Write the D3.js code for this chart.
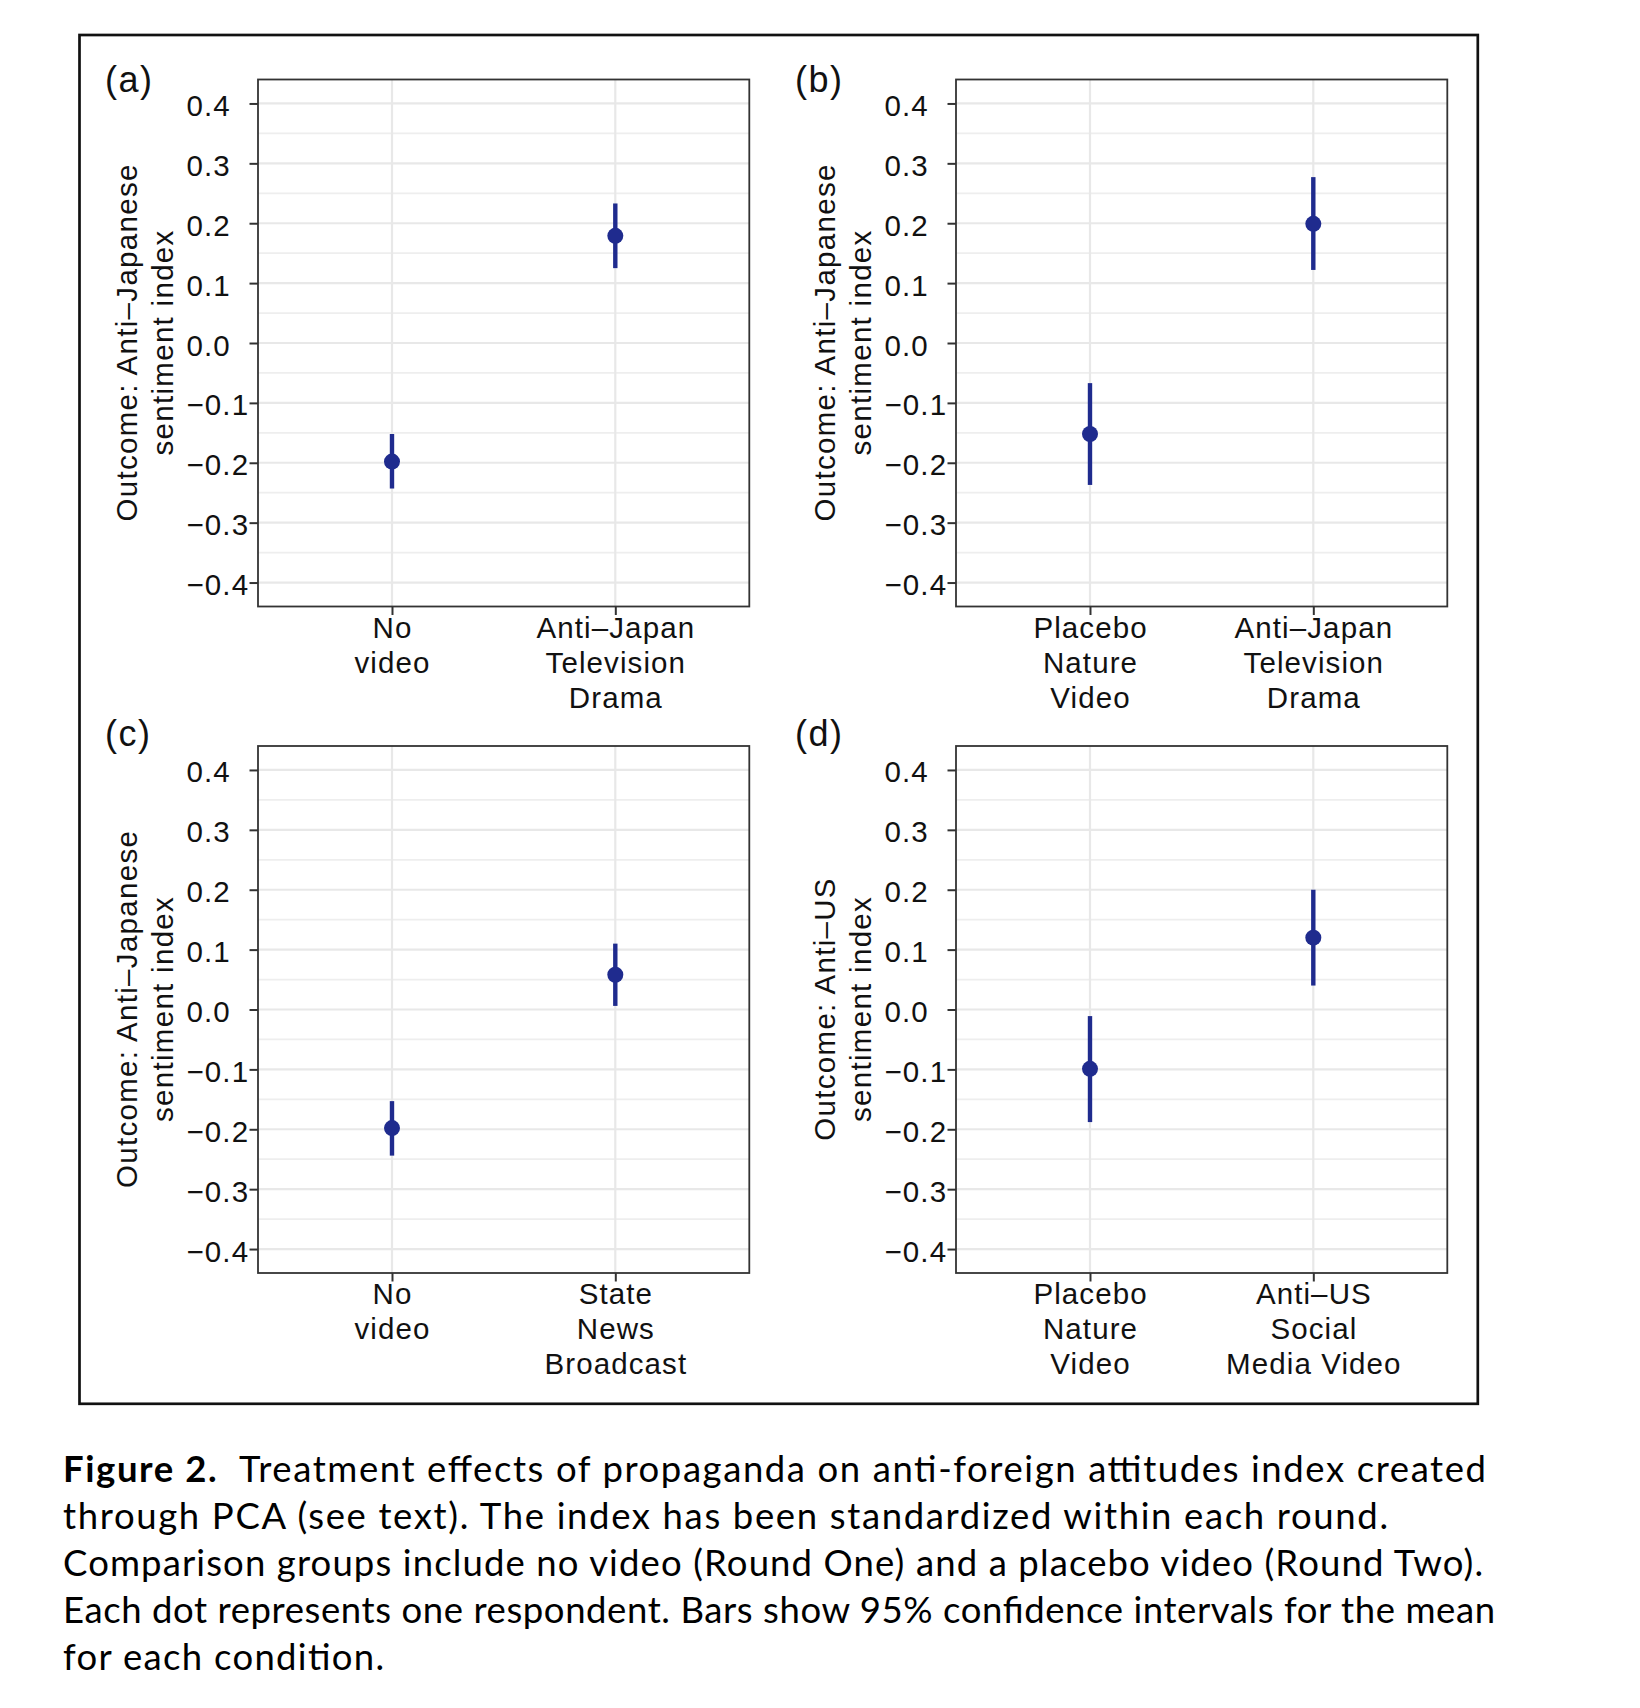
<!DOCTYPE html>
<html><head><meta charset="utf-8">
<script src="https://cdn.jsdelivr.net/npm/d3@7"></script>
<style>body{margin:0;background:#fff} svg{display:block}</style>
</head><body><svg id="chart" width="1640" height="1708"></svg>
<script>
// ---------- data ----------
const panelLabels = ["(a)", "(b)", "(c)", "(d)"];
const categoriesA = [["No", "video"], ["Anti–Japan", "Television", "Drama"]];
const categoriesB = [["Placebo", "Nature", "Video"], ["Anti–Japan", "Television", "Drama"]];
const categoriesC = [["No", "video"], ["State", "News", "Broadcast"]];
const categoriesD = [["Placebo", "Nature", "Video"], ["Anti–US", "Social", "Media Video"]];
const meanA = [-0.198, 0.179], lowA = [-0.243, 0.125], highA = [-0.152, 0.233];
const meanB = [-0.152, 0.199], lowB = [-0.237, 0.122], highB = [-0.067, 0.277];
const meanC = [-0.198, 0.058], lowC = [-0.244, 0.006], highC = [-0.153, 0.110];
const meanD = [-0.099, 0.120], lowD = [-0.188, 0.040], highD = [-0.011, 0.200];
const yTitleJapan = ["Outcome: Anti–Japanese", "sentiment index"];
const yTitleUS = ["Outcome: Anti–US", "sentiment index"];
const yTickValues = [-0.4, -0.3, -0.2, -0.1, 0, 0.1, 0.2, 0.3, 0.4];
const yMinorValues = [-0.35, -0.25, -0.15, -0.05, 0.05, 0.15, 0.25, 0.35];
const yDomain = [-0.44, 0.44];
const captionBold = "Figure 2.";
const captionLines = [
  "  Treatment effects of propaganda on anti-foreign attitudes index created",
  "through PCA (see text). The index has been standardized within each round.",
  "Comparison groups include no video (Round One) and a placebo video (Round Two).",
  "Each dot represents one respondent. Bars show 95% confidence intervals for the mean",
  "for each condition."
];

// ---------- layout ----------
const panels = [
  {label: panelLabels[0], cats: categoriesA, mean: meanA, low: lowA, high: highA, title: yTitleJapan, left: 258, top: 79.5, labelX: 105, labelY: 92},
  {label: panelLabels[1], cats: categoriesB, mean: meanB, low: lowB, high: highB, title: yTitleJapan, left: 956, top: 79.5, labelX: 795, labelY: 92},
  {label: panelLabels[2], cats: categoriesC, mean: meanC, low: lowC, high: highC, title: yTitleJapan, left: 258, top: 746, labelX: 105, labelY: 745.5},
  {label: panelLabels[3], cats: categoriesD, mean: meanD, low: lowD, high: highD, title: yTitleUS, left: 956, top: 746, labelX: 795, labelY: 745.5}
];
const PW = 491.3, PH = 527;
const FONT = "'Liberation Sans', Arial, Helvetica, sans-serif";
const FS = 29.5, LS = 1.1;
const dotColor = "#1f2b8e";
const captionWidths = [1423, 1325, 1420, 1432, 321];

const svg = d3.select("#chart");
svg.append("rect").attr("width", 1640).attr("height", 1708).attr("fill", "#fff");

// outer frame
svg.append("rect").attr("x", 79.5).attr("y", 35).attr("width", 1398.3).attr("height", 1368.8)
  .attr("fill", "none").attr("stroke", "#111").attr("stroke-width", 2.7);

panels.forEach(p => {
  const g = svg.append("g");
  const keys = p.cats.map((c, i) => "k" + i);
  const x = d3.scalePoint().domain(keys).range([p.left, p.left + PW]).padding(0.6);
  const y = d3.scaleLinear().domain(yDomain).range([p.top + PH, p.top]);

  // grid
  g.selectAll(".minor").data(yMinorValues).join("line")
    .attr("x1", p.left).attr("x2", p.left + PW)
    .attr("y1", d => y(d)).attr("y2", d => y(d))
    .attr("stroke", "#eeeeee").attr("stroke-width", 1.8);
  g.selectAll(".major").data(yTickValues).join("line")
    .attr("x1", p.left).attr("x2", p.left + PW)
    .attr("y1", d => y(d)).attr("y2", d => y(d))
    .attr("stroke", "#e8e8e8").attr("stroke-width", 2.2);
  g.selectAll(".vgrid").data(keys).join("line")
    .attr("x1", d => x(d)).attr("x2", d => x(d))
    .attr("y1", p.top).attr("y2", p.top + PH)
    .attr("stroke", "#e8e8e8").attr("stroke-width", 2.2);

  // axes (ticks)
  const ya = d3.axisLeft(y).tickValues(yTickValues).tickSize(8.5).tickFormat(d3.format(".1f"));
  const yg = g.append("g").attr("transform", `translate(${p.left},0)`).call(ya);
  yg.select(".domain").remove();
  yg.selectAll(".tick line").attr("stroke", "#333").attr("stroke-width", 2);
  yg.selectAll(".tick text").attr("x", -71.5).attr("text-anchor", "start").attr("dy", null).attr("y", 12)
    .attr("font-family", FONT).attr("font-size", FS).attr("letter-spacing", LS)
    .attr("fill", "#111");

  const xa = d3.axisBottom(x).tickSize(8.5).tickFormat("");
  const xg = g.append("g").attr("transform", `translate(0,${p.top + PH})`).call(xa);
  xg.select(".domain").remove();
  xg.selectAll(".tick line").attr("stroke", "#333").attr("stroke-width", 2);
  xg.selectAll(".tick text").remove();
  keys.forEach((k, i) => {
    const t = g.append("text").attr("text-anchor", "middle")
      .attr("font-family", FONT).attr("font-size", FS).attr("letter-spacing", LS).attr("fill", "#111");
    p.cats[i].forEach((line, j) => {
      t.append("tspan").attr("x", x(k) + LS / 2).attr("y", p.top + PH + 31 + j * 35).text(line);
    });
  });

  // panel border
  g.append("rect").attr("x", p.left).attr("y", p.top).attr("width", PW).attr("height", PH)
    .attr("fill", "none").attr("stroke", "#333").attr("stroke-width", 1.8);

  // error bars and points
  g.selectAll(".err").data(keys).join("line")
    .attr("x1", d => x(d)).attr("x2", d => x(d))
    .attr("y1", (d, i) => y(p.low[i])).attr("y2", (d, i) => y(p.high[i]))
    .attr("stroke", dotColor).attr("stroke-width", 4.4);
  g.selectAll(".pt").data(keys).join("circle")
    .attr("cx", d => x(d)).attr("cy", (d, i) => y(p.mean[i])).attr("r", 8)
    .attr("fill", dotColor);

  // y title
  const cy = p.top + PH / 2;
  p.title.forEach((line, j) => {
    const bx = p.left - 121.5 + j * 36.3;
    svg.append("text").attr("transform", `translate(${bx},${cy}) rotate(-90)`)
      .attr("x", LS / 2).attr("text-anchor", "middle")
      .attr("font-family", FONT).attr("font-size", FS).attr("letter-spacing", 1.3).attr("fill", "#111")
      .text(line);
  });

  // panel label
  svg.append("text").attr("x", p.labelX).attr("y", p.labelY)
    .attr("font-family", FONT).attr("font-size", 36).attr("letter-spacing", 1.5).attr("fill", "#111")
    .text(p.label);
});

// caption
const CF = "Lato, 'Gill Sans', 'Noto Sans', sans-serif";
captionLines.forEach((line, i) => {
  const t = svg.append("text").attr("x", 63).attr("y", 1481.5 + i * 47.1)
    .attr("font-family", CF).attr("font-size", 36.5).attr("fill", "#000")
    .attr("textLength", captionWidths[i]).attr("lengthAdjust", "spacing");
  if (i === 0) t.append("tspan").attr("font-weight", "bold").text(captionBold);
  t.append("tspan").attr("xml:space", "preserve").style("white-space", "pre").text(line);
});
</script></body></html>
